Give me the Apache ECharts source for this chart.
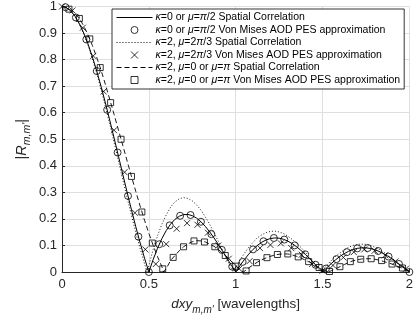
<!DOCTYPE html>
<html>
<head>
<meta charset="utf-8">
<script src="https://cdn.jsdelivr.net/npm/echarts@6/dist/echarts.min.js"></script>
<style>
  html, body { margin: 0; padding: 0; background: #fff; }
  #chart { width: 416px; height: 320px; }
</style>
</head>
<body>
<div id="chart"></div>
<script>
// Spacing d (in wavelengths) and correlation magnitude |R| for each curve.
const solidX = [0,0.025,0.05,0.075,0.1,0.125,0.15,0.175,0.2,0.225,0.25,0.275,0.3,0.325,0.35,0.375,0.4,0.425,0.45,0.475,0.5,0.525,0.55,0.575,0.6,0.625,0.65,0.675,0.7,0.725,0.75,0.775,0.8,0.825,0.85,0.875,0.9,0.925,0.95,0.975,1,1.025,1.05,1.075,1.1,1.125,1.15,1.175,1.2,1.225,1.25,1.275,1.3,1.325,1.35,1.375,1.4,1.425,1.45,1.475,1.5,1.525,1.55,1.575,1.6,1.625,1.65,1.675,1.7,1.725,1.75,1.775,1.8,1.825,1.85,1.875,1.9,1.925,1.95,1.975,2];
const solidR = [1,0.9959,0.9836,0.9634,0.9355,0.9003,0.8584,0.8103,0.7568,0.6987,0.6366,0.5716,0.5046,0.4363,0.3679,0.3001,0.2339,0.1700,0.1093,0.0524,0,0.0474,0.0894,0.1257,0.1559,0.1801,0.1981,0.2101,0.2162,0.2168,0.2122,0.2028,0.1892,0.1719,0.1515,0.1286,0.1039,0.0781,0.0518,0.0255,0,0.0243,0.0468,0.0672,0.0851,0.1000,0.1120,0.1207,0.1261,0.1283,0.1273,0.1233,0.1164,0.1070,0.0954,0.0819,0.0668,0.0507,0.0339,0.0169,0,0.0163,0.0317,0.0459,0.0585,0.0693,0.0780,0.0847,0.0890,0.0911,0.0910,0.0886,0.0841,0.0777,0.0696,0.0600,0.0492,0.0375,0.0252,0.0126,0];

const dotX = [0,0.025,0.05,0.075,0.1,0.125,0.15,0.175,0.2,0.225,0.25,0.275,0.3,0.325,0.35,0.375,0.4,0.425,0.45,0.475,0.49,0.5,0.525,0.55,0.575,0.6,0.625,0.65,0.675,0.7,0.725,0.75,0.775,0.8,0.825,0.85,0.875,0.9,0.925,0.95,0.975,0.985,1,1.025,1.05,1.075,1.1,1.125,1.15,1.175,1.2,1.225,1.25,1.275,1.3,1.325,1.35,1.375,1.4,1.425,1.45,1.475,1.49,1.5,1.525,1.55,1.575,1.6,1.625,1.65,1.675,1.7,1.725,1.75,1.775,1.8,1.825,1.85,1.875,1.9,1.925,1.95,1.975,1.99,2];
const dotR = [1,0.9957,0.9830,0.9620,0.9328,0.8964,0.8530,0.8029,0.7477,0.6875,0.6236,0.5567,0.4878,0.4181,0.3481,0.2797,0.2133,0.1484,0.0882,0.0315,0,0.025,0.085,0.136,0.180,0.215,0.244,0.264,0.276,0.280,0.277,0.268,0.253,0.233,0.208,0.180,0.148,0.116,0.082,0.047,0.013,0,0.018,0.045,0.070,0.093,0.112,0.129,0.140,0.148,0.153,0.154,0.151,0.145,0.135,0.123,0.109,0.093,0.075,0.055,0.032,0.012,0,0.008,0.026,0.043,0.059,0.072,0.084,0.093,0.100,0.104,0.105,0.104,0.100,0.094,0.086,0.076,0.064,0.051,0.038,0.023,0.009,0,0.004];

const dashX = [0,0.025,0.05,0.075,0.1,0.125,0.15,0.175,0.2,0.225,0.25,0.275,0.3,0.325,0.35,0.375,0.4,0.425,0.45,0.475,0.5,0.525,0.55,0.575,0.585,0.6,0.625,0.65,0.675,0.7,0.725,0.75,0.775,0.8,0.825,0.85,0.875,0.9,0.925,0.95,0.975,1,1.025,1.045,1.075,1.1,1.125,1.15,1.175,1.2,1.225,1.25,1.275,1.3,1.325,1.35,1.375,1.4,1.425,1.45,1.475,1.5,1.525,1.537,1.55,1.575,1.6,1.625,1.65,1.675,1.7,1.725,1.75,1.775,1.8,1.825,1.85,1.875,1.9,1.925,1.95,1.975,2];
const dashR = [1,0.997,0.986,0.971,0.955,0.927,0.893,0.853,0.808,0.760,0.706,0.650,0.593,0.535,0.477,0.418,0.360,0.303,0.248,0.195,0.146,0.100,0.058,0.020,0,0.013,0.043,0.062,0.080,0.095,0.106,0.114,0.118,0.117,0.113,0.105,0.097,0.085,0.070,0.057,0.041,0.022,0.009,0,0.015,0.027,0.037,0.046,0.053,0.059,0.064,0.067,0.068,0.068,0.064,0.059,0.053,0.045,0.037,0.027,0.018,0.010,0.004,0,0.005,0.012,0.020,0.028,0.036,0.042,0.046,0.049,0.050,0.050,0.048,0.045,0.040,0.035,0.030,0.023,0.017,0.010,0.004];

// Von Mises AOD PES approximation samples
const circX = [0.02,0.08,0.14,0.2,0.26,0.32,0.38,0.44,0.5,0.56,0.62,0.68,0.74,0.8,0.86,0.92,0.98,1.04,1.1,1.16,1.22,1.28,1.34,1.4,1.46,1.52,1.58,1.64,1.7,1.76,1.82,1.88,1.94,2];
const circR = [0.9974,0.9584,0.8759,0.7568,0.6109,0.4500,0.2867,0.1332,0,0.1046,0.1757,0.2118,0.2147,0.1892,0.1426,0.0833,0.0204,0.0381,0.0851,0.1158,0.1281,0.1221,0.1003,0.0668,0.0271,0.0131,0.0485,0.0748,0.0890,0.0903,0.0791,0.0580,0.0302,0];

const crossX = [0,0.06,0.12,0.18,0.24,0.3,0.36,0.42,0.48,0.54,0.6,0.66,0.72,0.78,0.84,0.9,0.96,1.02,1.08,1.14,1.2,1.26,1.32,1.38,1.44,1.5,1.56,1.62,1.68,1.74,1.8,1.86,1.92,1.98];
const crossR = [1,0.985,0.92,0.814,0.68,0.534,0.376,0.223,0.085,0.03,0.105,0.163,0.184,0.178,0.148,0.10,0.05,0.012,0.041,0.09,0.102,0.108,0.09,0.065,0.03,0.005,0.025,0.055,0.075,0.085,0.08,0.063,0.04,0.012];

const sqX = [0.04,0.1,0.16,0.22,0.28,0.34,0.4,0.46,0.52,0.58,0.64,0.7,0.76,0.82,0.88,0.94,1,1.06,1.12,1.18,1.24,1.3,1.36,1.42,1.48,1.54,1.6,1.66,1.72,1.78,1.84,1.9,1.96];
const sqR = [0.99,0.955,0.878,0.77,0.638,0.50,0.36,0.226,0.109,0.012,0.055,0.095,0.117,0.113,0.095,0.062,0.022,0.004,0.035,0.054,0.066,0.068,0.057,0.039,0.017,0.002,0.02,0.039,0.048,0.05,0.043,0.03,0.015];

const xTickLabels = ['0', '0.5', '1', '1.5', '2'];
const yTickLabels = ['0', '0.1', '0.2', '0.3', '0.4', '0.5', '0.6', '0.7', '0.8', '0.9', '1'];

const seriesNames = [
  '{i|\u03ba}=0 or {i|\u03bc}={i|\u03c0}/2 Spatial Correlation',
  '{i|\u03ba}=0 or {i|\u03bc}={i|\u03c0}/2 Von Mises AOD PES approximation',
  '{i|\u03ba}=2, {i|\u03bc}=2{i|\u03c0}/3 Spatial Correlation',
  '{i|\u03ba}=2, {i|\u03bc}=2{i|\u03c0}/3 Von Mises AOD PES approximation',
  '{i|\u03ba}=2, {i|\u03bc}=0 or {i|\u03bc}={i|\u03c0} Spatial Correlation',
  '{i|\u03ba}=2, {i|\u03bc}=0 or {i|\u03bc}={i|\u03c0} Von Mises AOD PES approximation'
];

const zip = (xs, ys) => xs.map((x, i) => [x, ys[i]]);
const FONT = '"Liberation Sans", Arial, Helvetica, sans-serif';
const AX = '#262626';

const CROSS = 'path://M0,0L10,10M0,10L10,0';
const SQUARE = 'path://M0,0L10,0L10,10L0,10Z';

const chart = echarts.init(document.getElementById('chart'), null, { renderer: 'canvas' });

const hollow = { color: 'none', borderColor: '#000', borderWidth: 1 };
// line series: legend shows only the stroke, no marker
const lineOnly = { color: 'none', opacity: 0, borderWidth: 0 };

chart.setOption({
  animation: false,
  backgroundColor: '#fff',
  grid: { left: 62, right: 4, top: 4, bottom: 42, containLabel: false },
  xAxis: {
    type: 'value', min: 0, max: 2, interval: 0.5,
    axisLine: { show: true, lineStyle: { color: AX, width: 1 } },
    axisTick: { show: true, inside: true, length: 3, lineStyle: { color: AX } },
    axisLabel: {
      color: AX, fontFamily: FONT, fontSize: 13, margin: 6,
      formatter: v => xTickLabels[Math.round(v * 2)]
    },
    splitLine: { show: true, lineStyle: { color: '#dfdfdf', width: 1 } },
    name: '{i|dxy}{s|m,m\'} [wavelengths]',
    nameLocation: 'middle', nameGap: 21, nameMoveOverlap: false,
    nameTextStyle: {
      color: AX, fontFamily: FONT, fontSize: 13.5,
      rich: {
        i: { fontStyle: 'italic', fontFamily: FONT, fontSize: 13.5, color: AX, lineHeight: 22, verticalAlign: 'middle' },
        s: { fontStyle: 'italic', fontFamily: FONT, fontSize: 10, color: AX, lineHeight: 10, verticalAlign: 'bottom' }
      }
    }
  },
  yAxis: {
    type: 'value', min: 0, max: 1, interval: 0.1,
    axisLine: { show: true, lineStyle: { color: AX, width: 1 } },
    axisTick: { show: true, inside: true, length: 3, lineStyle: { color: AX } },
    axisLabel: {
      color: AX, fontFamily: FONT, fontSize: 13, margin: 5,
      formatter: v => yTickLabels[Math.round(v * 10)]
    },
    splitLine: { show: true, lineStyle: { color: '#dfdfdf', width: 1 } },
    name: '|{i|R}{s|m,m\'}|',
    nameLocation: 'middle', nameGap: 29, nameRotate: 90, nameMoveOverlap: false,
    nameTextStyle: {
      color: AX, fontFamily: FONT, fontSize: 14.5,
      rich: {
        i: { fontStyle: 'italic', fontFamily: FONT, fontSize: 14.5, color: AX, lineHeight: 22, verticalAlign: 'middle' },
        s: { fontStyle: 'italic', fontFamily: FONT, fontSize: 10.5, color: AX, lineHeight: 10, verticalAlign: 'bottom' }
      }
    }
  },
  legend: {
    orient: 'vertical', left: 112, top: 9,
    itemWidth: 36, itemHeight: 7, itemGap: 1,
    padding: [3, 4, 3, 4],
    backgroundColor: '#fff', borderColor: '#000', borderWidth: 0.8, borderRadius: 0,
    itemStyle: { borderWidth: 1 },
    lineStyle: { width: 1 },
    textStyle: {
      color: '#000', fontFamily: FONT, fontSize: 10.5, lineHeight: 10.2, padding: [0, 0, 0, -2],
      rich: { i: { fontStyle: 'italic', fontFamily: FONT, fontSize: 10.5, color: '#000' } }
    },
    data: [
      { name: seriesNames[0], itemStyle: lineOnly },
      { name: seriesNames[1] },
      { name: seriesNames[2], itemStyle: lineOnly },
      { name: seriesNames[3] },
      { name: seriesNames[4], itemStyle: lineOnly },
      { name: seriesNames[5] }
    ]
  },
  series: [
    {
      name: seriesNames[0], type: 'line', data: zip(solidX, solidR),
      symbol: 'none', lineStyle: { color: '#000', width: 1 }, itemStyle: { color: 'none' }, z: 3
    },
    {
      name: seriesNames[1], type: 'scatter', data: zip(circX, circR),
      symbol: 'circle', symbolSize: 7, itemStyle: hollow, z: 4
    },
    {
      name: seriesNames[2], type: 'line', data: zip(dotX, dotR),
      symbol: 'none', lineStyle: { color: '#000', width: 0.9, type: [1, 2] }, itemStyle: { color: 'none' }, z: 3
    },
    {
      name: seriesNames[3], type: 'scatter', data: zip(crossX, crossR),
      symbol: CROSS, symbolSize: 6, itemStyle: hollow, z: 4
    },
    {
      name: seriesNames[4], type: 'line', data: zip(dashX, dashR),
      symbol: 'none', lineStyle: { color: '#000', width: 0.9, type: [5, 3] }, itemStyle: { color: 'none' }, z: 3
    },
    {
      name: seriesNames[5], type: 'scatter', data: zip(sqX, sqR),
      symbol: SQUARE, symbolSize: 6, itemStyle: hollow, z: 4
    }
  ]
});
</script>
</body>
</html>
